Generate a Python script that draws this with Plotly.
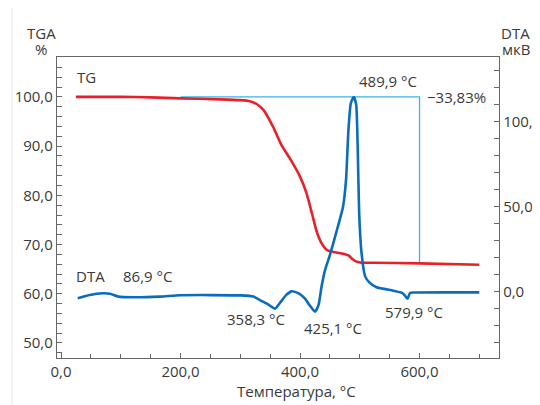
import plotly.graph_objects as go

# ---- data ----
tg_temp = [25, 100, 150, 200, 266, 300, 316, 328, 339, 355, 369, 383, 400, 411, 420, 428, 436, 445, 456, 470, 481, 488, 495, 503, 520, 600, 700]
tg_mass = [100.0, 100.0, 99.9, 99.7, 99.5, 99.33, 99.1, 98.5, 97.3, 93.9, 90.2, 87.5, 83.8, 80.4, 76.3, 72.6, 70.3, 68.9, 68.5, 68.2, 67.8, 67.0, 66.5, 66.3, 66.3, 66.17, 65.9]

dta_temp = [28, 48, 70, 82, 96, 121, 166, 199, 250, 300, 322, 338, 346, 352, 358.3, 366, 377, 386, 397, 408, 416, 425.1, 431, 436, 442, 450, 461, 472, 477, 481, 485, 489.9, 494, 496.5, 499, 503, 509, 516, 528, 556, 570, 575, 579.9, 584, 590, 650, 700]
dta_val = [-3.9, -1.9, -0.9, -1.2, -2.9, -3.3, -2.9, -2.1, -2.0, -2.2, -2.9, -5.9, -7.3, -8.8, -10.0, -6.8, -1.9, 0.2, -0.9, -3.9, -8.0, -11.8, -7.8, 2.9, 12.8, 21.5, 35.3, 50.0, 65.7, 95.0, 110.8, 114.5, 110.0, 85.3, 46.0, 22.6, 9.0, 5.5, 2.6, 0.6, -0.6, -2.0, -4.2, -0.8, -0.5, -0.4, -0.4]

mark_temp = [200, 600, 600]
mark_mass = [100.0, 100.0, 66.17]

x_ticks = [0, 200, 400, 600]
x_labels = ["0,0", "200,0", "400,0", "600,0"]
y_ticks = [50, 60, 70, 80, 90, 100]
y_labels = ["50,0", "60,0", "70,0", "80,0", "90,0", "100,0"]
y2_ticks = [0, 50, 100]
y2_labels = ["0,0", "50,0", "100,0"]

FONT = "Open Sans"
TXT = "#3a3a3a"
AX = "#666666"

fig = go.Figure()
fig.add_trace(go.Scatter(x=mark_temp, y=mark_mass, mode="lines",
                         line=dict(color="#3ab4e8", width=1.3), yaxis="y", hoverinfo="skip"))
fig.add_trace(go.Scatter(x=tg_temp, y=tg_mass, mode="lines",
                         line=dict(color="#e8202a", width=2.6, shape="spline", smoothing=0.6), yaxis="y"))
fig.add_trace(go.Scatter(x=dta_temp, y=dta_val, mode="lines",
                         line=dict(color="#0a6cbd", width=2.6, shape="spline", smoothing=0.5), yaxis="y2"))

# the page body has an 8px margin: figure pixel = screen pixel - 8
OFF = 8
W, H = 540 - OFF, 405 - OFF
L, T = 57 - OFF, 57 - OFF
R = W - (499 - OFF)
B = H - (358 - OFF)
pw, ph = W - L - R, H - T - B


def px(x, y):
    x -= OFF
    y -= OFF
    return (x - L) / pw, (H - B - y) / ph


def label(text, x, y, anchor="center"):
    xp, yp = px(x, y)
    fig.add_annotation(text=text, x=xp, y=yp, xref="paper", yref="paper",
                       xanchor=anchor, yanchor="middle", showarrow=False,
                       font=dict(family=FONT, size=15, color=TXT))


label("TGA", 41, 33)
label("%", 41, 49)
label("DTA", 515, 33)
label("мкВ", 516, 49)
label("TG", 75, 77, "left")
label("DTA", 74, 276, "left")
label("86,9 °C", 121, 276, "left")
label("489,9 °C", 388, 81)
label("\u221233,83%", 456, 97)
label("358,3 °C", 256, 319)
label("425,1 °C", 333, 328)
label("579,9 °C", 414, 312)
label("Температура, °C", 296, 391)

fig.add_shape(type="line", xref="paper", yref="paper",
              x0=px(12, 0)[0], x1=px(12, 0)[0], y0=px(0, 8)[1], y1=px(0, 405)[1],
              line=dict(color="#e6e6e6", width=1))

axis_common = dict(showgrid=False, zeroline=False, showline=True, linecolor=AX, linewidth=1.3,
                   automargin=False,
                   ticks="inside", ticklen=5, tickcolor=AX, tickwidth=1.2,
                   tickfont=dict(family=FONT, size=15, color=TXT))

fig.update_layout(
    width=W, height=H, margin=dict(l=L, r=R, t=T, b=B, autoexpand=False),
    paper_bgcolor="white", plot_bgcolor="white", showlegend=False,
    xaxis=dict(range=[-6.7, 733], tickvals=x_ticks, ticktext=x_labels, mirror=True,
               minor=dict(dtick=50, tick0=0, ticks="inside", ticklen=4, tickcolor=AX), **axis_common),
    yaxis=dict(range=[46.95, 108.1], tickvals=y_ticks, ticktext=y_labels,
               minor=dict(dtick=2, tick0=0, ticks="inside", ticklen=5, tickcolor=AX), **axis_common),
    yaxis2=dict(range=[-39, 138], tickvals=y2_ticks, ticktext=y2_labels, overlaying="y", side="right",
                minor=dict(dtick=10, tick0=0, ticks="inside", ticklen=5, tickcolor=AX), **axis_common),
)

fig.write_html("out.html")
